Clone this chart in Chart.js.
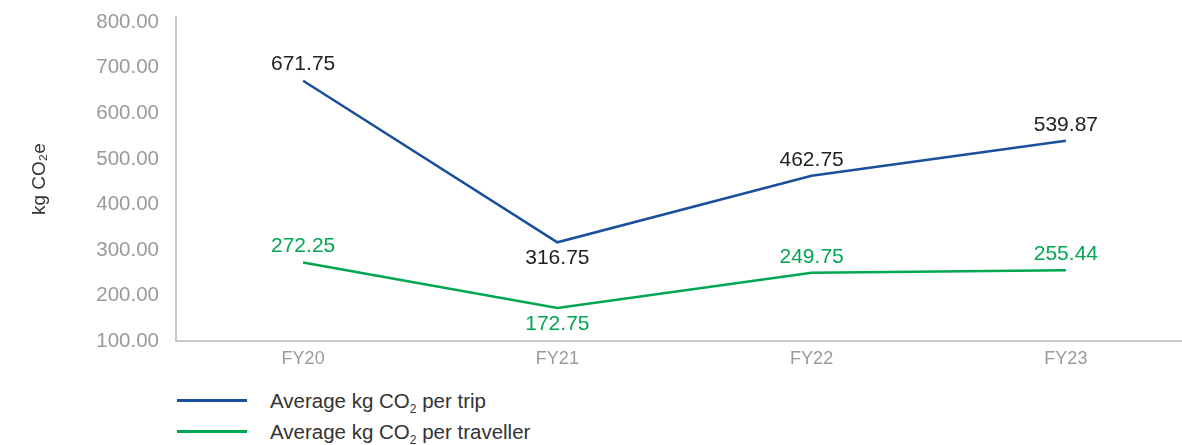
<!DOCTYPE html>
<html>
<head>
<meta charset="utf-8">
<script src="https://cdn.jsdelivr.net/npm/chart.js@4.4.1/dist/chart.umd.min.js"></script>
<style>
  html, body { margin:0; padding:0; background:#fff; width:1182px; height:445px; overflow:hidden; }
  #wrap { position:absolute; left:0; top:-12px; width:1200px; height:383px; }
  .legend { position:absolute; left:177px; font-family:"Liberation Sans", Arial, sans-serif; font-size:20.5px; color:#333; }
  .legend .row { position:absolute; left:0; white-space:nowrap; }
  .legend .sw { position:absolute; left:0; width:70px; height:3px; }
  .legend .tx { position:absolute; left:93px; top:-9px; line-height:22px; }
  .legend sub { font-size:12px; vertical-align:-5px; line-height:0; }
</style>
</head>
<body>
<div id="wrap"><canvas id="c" width="1200" height="383"></canvas></div>
<div class="legend">
  <div class="row" style="top:399px"><span class="sw" style="background:#1a4f9c"></span><span class="tx">Average kg CO<sub>2</sub> per trip</span></div>
  <div class="row" style="top:430px"><span class="sw" style="background:#00a651"></span><span class="tx">Average kg CO<sub>2</sub> per traveller</span></div>
</div>
<script>
const categories = ["FY20", "FY21", "FY22", "FY23"];
const perTrip = [671.75, 316.75, 462.75, 539.87];
const perTraveller = [272.25, 172.75, 249.75, 255.44];
const yTickValues = [100, 200, 300, 400, 500, 600, 700, 800];
const seriesNames = ["Average kg CO₂ per trip", "Average kg CO₂ per traveller"];
const yTitle = "kg CO₂e";
const labelPos = [["above","below","above","above"],["above","below","above","above"]];
const labelColors = ["#222222", "#00a651"];

const FONT = "'Liberation Sans', Arial, sans-serif";

const valueLabels = {
  id: "valueLabels",
  afterDatasetsDraw(chart) {
    const ctx = chart.ctx;
    ctx.save();
    ctx.font = "21px " + FONT;
    ctx.textAlign = "center";
    ctx.textBaseline = "middle";
    chart.data.datasets.forEach((ds, di) => {
      const meta = chart.getDatasetMeta(di);
      ctx.fillStyle = labelColors[di];
      meta.data.forEach((pt, i) => {
        const off = labelPos[di][i] === "above" ? -16 : 16;
        ctx.fillText(ds.data[i].toFixed(2), pt.x, pt.y + off);
      });
    });
    ctx.restore();
  }
};

new Chart(document.getElementById("c"), {
  type: "line",
  data: {
    labels: categories,
    datasets: [
      { label: seriesNames[0], data: perTrip, borderColor: "#1a4f9c", borderWidth: 2.5, pointRadius: 0, tension: 0, fill: false },
      { label: seriesNames[1], data: perTraveller, borderColor: "#00a651", borderWidth: 2.5, pointRadius: 0, tension: 0, fill: false }
    ]
  },
  options: {
    responsive: false,
    animation: false,
    layout: { padding: { top: 0, right: 7, bottom: 0, left: 0 } },
    plugins: { legend: { display: false }, tooltip: { enabled: false } },
    scales: {
      x: {
        offset: true,
        grid: { display: false, drawTicks: false },
        border: { color: "#c8c8c8", width: 2 },
        ticks: { color: "#9a9a9a", font: { family: FONT, size: 18 }, padding: 7 },
        afterFit(s) { s.height = 30; }
      },
      y: {
        min: 100, max: 811,
        grid: { display: false, drawTicks: false },
        border: { color: "#c8c8c8", width: 2 },
        ticks: { color: "#9a9a9a", font: { family: FONT, size: 20.5 }, padding: 17,
                 callback: v => Number(v).toFixed(2) },
        afterBuildTicks(s) { s.ticks = yTickValues.map(v => ({ value: v })); },
        title: { display: true, text: yTitle, color: "#333", font: { family: FONT, size: 19 }, padding: { top: 28, bottom: 0 } },
        afterFit(s) { s.width = 176; }
      }
    }
  },
  plugins: [valueLabels]
});
</script>
</body>
</html>
